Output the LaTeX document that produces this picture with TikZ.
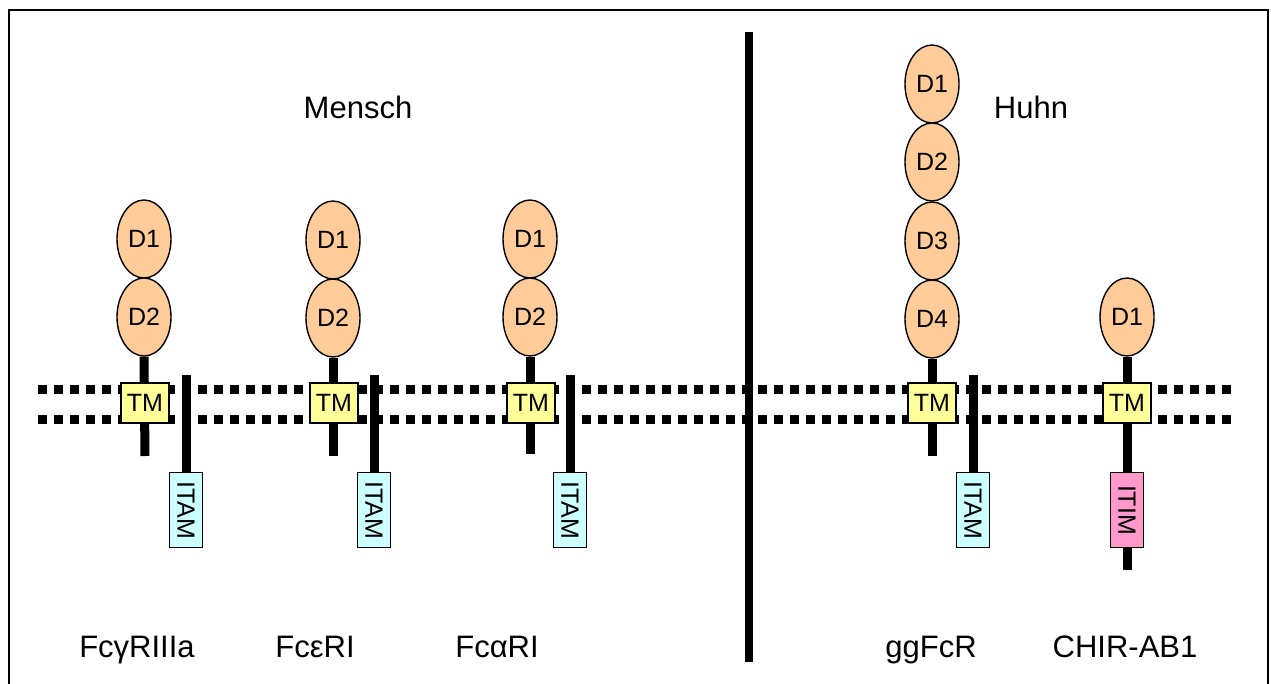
\documentclass[tikz,border=0pt]{standalone}
\usepackage{fontspec}
\setmainfont{Liberation Sans}
\usetikzlibrary{shapes.geometric}

\definecolor{domainfill}{HTML}{FFCC99}
\definecolor{tmfill}{HTML}{FFFF99}
\definecolor{itamfill}{HTML}{CCFFFF}
\definecolor{itimfill}{HTML}{FF99CC}

\pgfdeclarelayer{background}
\pgfsetlayers{background,main}

\tikzset{
  igdomain/.style={ellipse, draw=black, line width=1.4pt, fill=domainfill,
    minimum width=54, minimum height=78, inner sep=0pt,
    font=\fontsize{25}{25}\selectfont},
  tmbox/.style={rectangle, draw=black, line width=1.4pt, fill=tmfill,
    minimum width=48, minimum height=40, inner sep=0pt,
    font=\fontsize{25}{25}\selectfont},
  motif/.style={rectangle, draw=black, line width=1.4pt, rotate=-90,
    minimum width=75, minimum height=33, inner sep=0pt,
    font=\fontsize{25}{25}\selectfont},
  stem/.style={line width=9pt},
  membrane/.style={line width=9pt, dash pattern=on 9pt off 7pt},
  divider/.style={line width=8pt},
  frame/.style={line width=2.5pt},
  title/.style={font=\fontsize{31}{31}\selectfont, anchor=base},
}

\begin{document}
\begin{tikzpicture}[x=1pt, y=-1pt]
\useasboundingbox (0,0) rectangle (1271,684);

% outer frame (open at the bottom)
\draw[frame] (9,684) -- (9,10) -- (1268,10) -- (1268,684);

% species headings
\node[title] (mensch) at (358,119) {Mensch};
\node[title] (huhn) at (1031,119) {Huhn};

% ---------- Fc gamma RIIIa ----------
\node[igdomain] (g1) at (144,239) {D1};
\node[igdomain] (g2) at (144,317) {D2};
\node[tmbox] (tm1) at (145,403) {TM};
\coordinate (s1end) at (145,456);
\coordinate (a1top) at (186,375);
\node[motif, fill=itamfill] (itam1) at (186,510) {ITAM};
\node[title] (lab1) at (137,657) {Fcγ{}RIIIa};

% ---------- Fc epsilon RI ----------
\node[igdomain] (e1) at (333,240) {D1};
\node[igdomain] (e2) at (333,318) {D2};
\node[tmbox] (tm2) at (334,403) {TM};
\coordinate (s2end) at (333,456);
\coordinate (a2top) at (374,375);
\node[motif, fill=itamfill] (itam2) at (374,510) {ITAM};
\node[title] (lab2) at (315,657) {Fcε{}RI};

% ---------- Fc alpha RI ----------
\node[igdomain] (al1) at (530,239) {D1};
\node[igdomain] (al2) at (530,317) {D2};
\node[tmbox] (tm3) at (531,403) {TM};
\coordinate (s3end) at (530,454);
\coordinate (a3top) at (570,375);
\node[motif, fill=itamfill] (itam3) at (570,510) {ITAM};
\node[title] (lab3) at (497,657) {Fcα{}RI};

% ---------- ggFcR ----------
\node[igdomain] (c1) at (932,84) {D1};
\node[igdomain] (c2) at (932,162) {D2};
\node[igdomain] (c3) at (932,241) {D3};
\node[igdomain] (c4) at (932,319) {D4};
\node[tmbox] (tm4) at (932,403) {TM};
\coordinate (s4end) at (932,456);
\coordinate (a4top) at (973,375);
\node[motif, fill=itamfill] (itam4) at (973,510) {ITAM};
\node[title] (lab4) at (931,657) {ggFcR};

% ---------- CHIR-AB1 ----------
\node[igdomain] (h1) at (1127,317) {D1};
\node[tmbox] (tm5) at (1127,403) {TM};
\node[motif, fill=itimfill] (itim5) at (1127,510) {ITIM};
\coordinate (s5end) at (1127,570);
\node[title] (lab5) at (1125,657) {CHIR-AB1};

% membrane, stems and separator go underneath the domains and boxes
\begin{pgfonlayer}{background}
  \coordinate (mL1) at (38,389);  \coordinate (mR1) at (1236,389);
  \coordinate (mL2) at (38,419);  \coordinate (mR2) at (1236,419);
  \draw[membrane] (mL1) -- (mR1);
  \draw[membrane] (mL2) -- (mR2);

  \draw[stem] (g2.south) -- (s1end);
  \draw[stem] (a1top) -- (itam1.west);
  \draw[stem] (e2.south) -- (s2end);
  \draw[stem] (a2top) -- (itam2.west);
  \draw[stem] (al2.south) -- (s3end);
  \draw[stem] (a3top) -- (itam3.west);
  \draw[stem] (c4.south) -- (s4end);
  \draw[stem] (a4top) -- (itam4.west);
  \draw[stem] (h1.south) -- (s5end);
\end{pgfonlayer}

% separator between the two species
\coordinate (divT) at (749,32);
\coordinate (divB) at (749,662);
\draw[divider] (divT) -- (divB);
\end{tikzpicture}
\end{document}
